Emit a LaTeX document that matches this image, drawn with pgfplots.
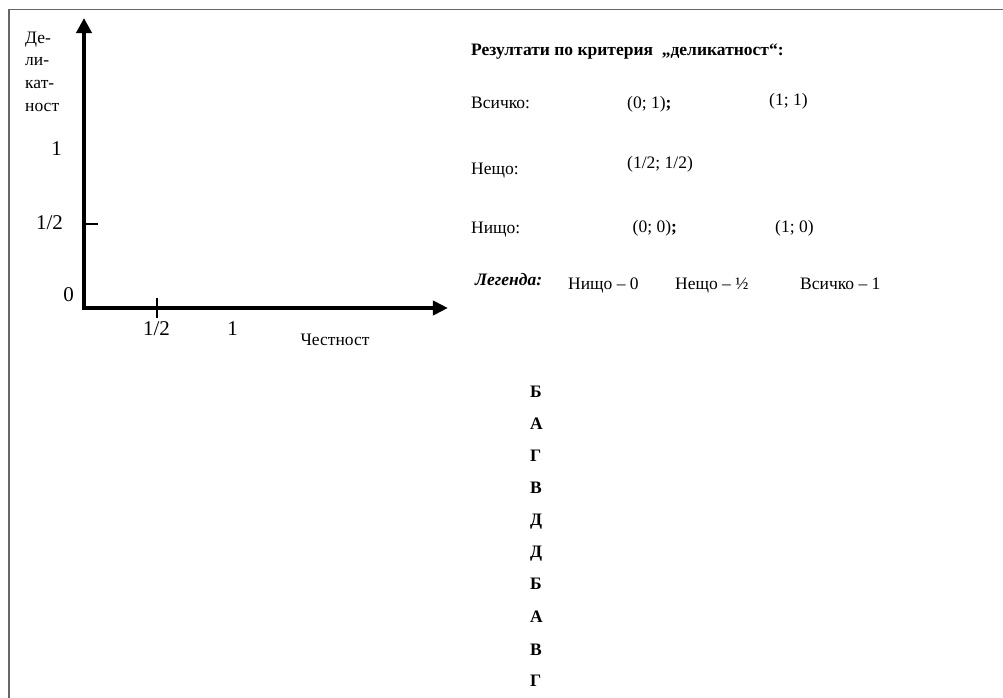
\documentclass[border=0pt]{standalone}
\usepackage{fontspec}
\setmainfont{Liberation Serif}
\usepackage{pgfplots}
\pgfplotsset{compat=1.18}
\usetikzlibrary{arrows.meta}
\begin{document}
\begin{tikzpicture}
\path[use as bounding box] (0,0) rectangle (1003pt,698pt);
\begin{scope}[x=1pt,y=-1pt,shift={(0pt,698pt)},
  body/.style={font=\fontsize{17.5}{21}\selectfont, inner sep=0pt, anchor=base west},
  bbody/.style={font=\fontsize{17.5}{21}\selectfont\bfseries, inner sep=0pt, anchor=base west},
  tl/.style={font=\fontsize{21}{25}\selectfont, inner sep=0pt, anchor=center}]
\draw[line width=1.8pt, black!60] (8.7,698) -- (8.7,9.6) -- (1003,9.6);
\coordinate (O) at (84,308);
% y-axis label
\node[body] at (25,43.5) {Де-};
\node[body] at (25,66) {ли-};
\node[body] at (25,89) {кат-};
\node[body] at (25,112) {ност};
% tick labels
\node[tl] at (68.5,295) {0};
\node[tl] at (49.5,223) {1/2};
\node[tl] at (56.5,149) {1};
\node[tl] at (156.5,329) {1/2};
\node[tl] at (232.5,329) {1};
\node[body, anchor=center] at (335,340) {Честност};
% right text
\node[bbody] at (471,56) {Резултати по критерия \ „деликатност“:};
\node[body] at (471,109) {Всичко:};
\node[body] at (627,108.5) {(0; 1)\textbf{;}};
\node[body] at (769,106) {(1; 1)};
\node[body] at (471,175) {Нещо:};
\node[body] at (627,169) {(1/2; 1/2)};
\node[body] at (471,234) {Нищо:};
\node[body] at (632.5,233) {(0; 0)\textbf{;}};
\node[body] at (775,233) {(1; 0)};
\node[bbody, font=\fontsize{17.5}{21}\selectfont\bfseries\itshape] at (475,286) {Легенда:};
\node[body] at (568,290) {Нищо – 0};
\node[body] at (675,290) {Нещо – ½};
\node[body] at (800,290) {Всичко – 1};
% letters column
\node[bbody] at (530,398) {Б};
\node[bbody] at (530,430) {А};
\node[bbody] at (530,462) {Г};
\node[bbody] at (530,494) {В};
\node[bbody] at (530,526) {Д};
\node[bbody] at (530,558) {Д};
\node[bbody] at (530,590) {Б};
\node[bbody] at (530,623) {А};
\node[bbody] at (530,656) {В};
\node[bbody] at (530,687) {Г};
\end{scope}
\begin{axis}[anchor=south west, at={(O)},
  x=146pt, y=168pt,
  xmin=0, xmax=2.493, ymin=0, ymax=1.726,
  axis lines=left,
  every outer x axis line/.style={line width=4.5pt, black, line cap=rect, -{Triangle[length=15pt,width=14pt]}},
  every outer y axis line/.style={line width=4.5pt, black, line cap=rect, -{Triangle[length=15pt,width=15pt]}},
  xtick={0.5}, ytick={0.5},
  xticklabels={}, yticklabels={},
  xtick align=center, ytick align=inside,
  xtick style={line width=1.3pt, black, /pgfplots/major tick length=20pt},
  ytick style={line width=1.3pt, black, /pgfplots/major tick length=14pt},
  clip=false]
\addplot[draw=none, forget plot] coordinates {(0,0)};
\end{axis}
\end{tikzpicture}
\end{document}
